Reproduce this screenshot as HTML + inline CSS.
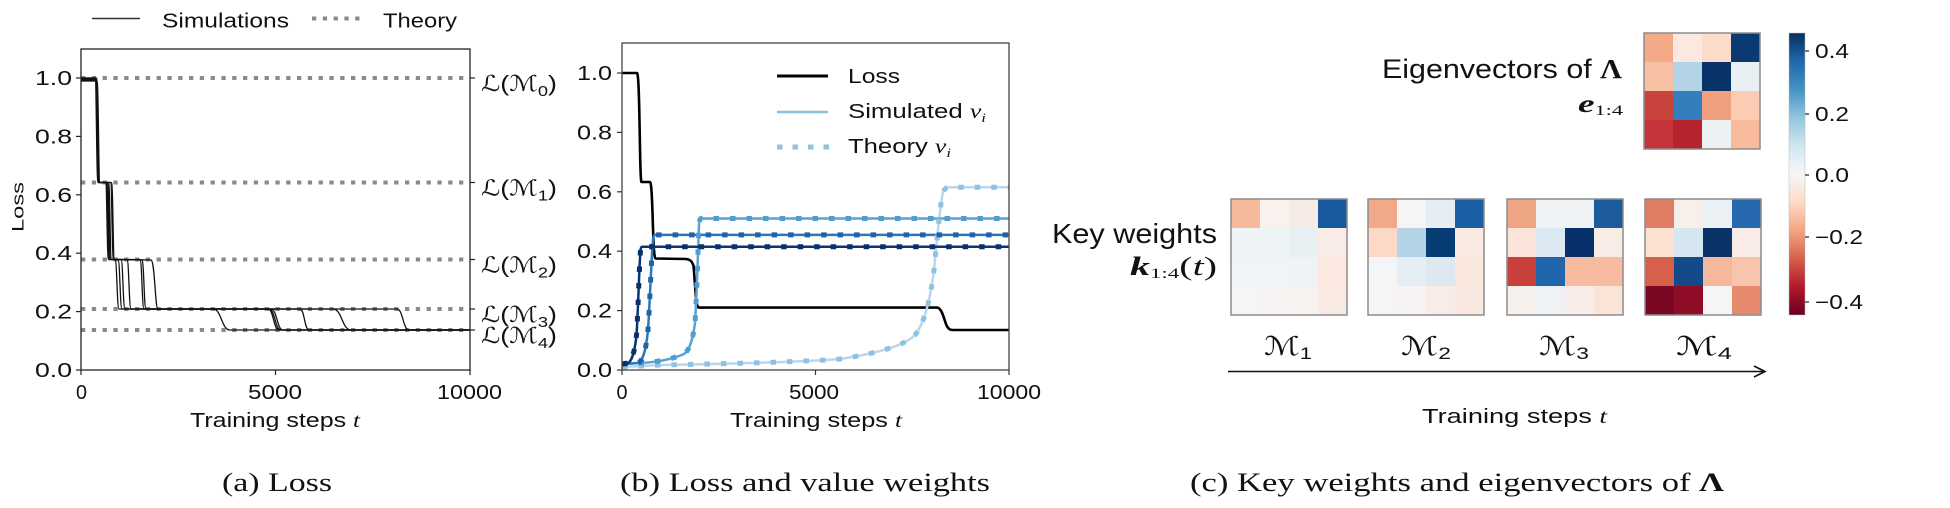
<!DOCTYPE html>
<html>
<head>
<meta charset="utf-8">
<style>
html,body{margin:0;padding:0;background:#fff;}
svg{display:block;}
text{font-family:"Liberation Sans",Arial,sans-serif;fill:#111;}
.serif{font-family:"Liberation Serif","Times New Roman",serif;}
.math{font-family:"DejaVu Serif","DejaVu Sans",serif;}
</style>
</head>
<body>
<svg width="1950" height="508" viewBox="0 0 1950 508" xmlns="http://www.w3.org/2000/svg">
<rect x="0" y="0" width="1950" height="508" fill="#fff"/>

<!-- ================= PANEL (a) ================= -->
<!-- legend -->
<line x1="92" y1="18.5" x2="140" y2="18.5" stroke="#333" stroke-width="1.5"/>
<text x="162" y="27.5" font-size="20" textLength="127" lengthAdjust="spacingAndGlyphs">Simulations</text>
<line x1="312" y1="18.5" x2="364" y2="18.5" stroke="#8a8a8a" stroke-width="4" stroke-dasharray="4.3 6.5"/>
<text x="383" y="27.5" font-size="20" textLength="74" lengthAdjust="spacingAndGlyphs">Theory</text>

<!-- theory lines -->
<g stroke="#8a8a8a" stroke-width="4" stroke-dasharray="4.3 6.5" fill="none">
<line x1="81" y1="78" x2="470" y2="78"/>
<line x1="81" y1="182.5" x2="470" y2="182.5"/>
<line x1="81" y1="259.5" x2="470" y2="259.5"/>
<line x1="81" y1="309" x2="470" y2="309"/>
<line x1="81" y1="330" x2="470" y2="330"/>
</g>

<!-- simulation runs -->
<g stroke="#111" stroke-width="1.3" fill="none">
<path d="M81 79 L95 79 C96.5 79 96.5 182.5 98 182.5 L105.5 182.5 C107 182.5 107 259.5 108.5 259.5 L115 259.5 C117 259.5 117 309 119 309 L213 309 C221.5 309 221.5 330 230 330 L470 330"/>
<path d="M81 78 L95.5 78 C97 78 97 182.5 98.5 182.5 L106.5 182.5 C108 182.5 108 259.5 109.5 259.5 L121 259.5 C123 259.5 123 309 125 309 L268 309 C273.5 309 273.5 330 279 330 L470 330"/>
<path d="M81 80 L96 80 C97.5 80 97.5 182.5 99 182.5 L107.5 182.5 C109 182.5 109 259.5 110.5 259.5 L127 259.5 C129 259.5 129 309 131 309 L271 309 C277 309 277 330 283 330 L470 330"/>
<path d="M81 78.5 L96.5 78.5 C98 78.5 98 182.5 99.5 182.5 L106.5 182.5 C108 182.5 108 259.5 109.5 259.5 L140 259.5 C142 259.5 142 309 144 309 L300 309 C304.5 309 304.5 330 309 330 L470 330"/>
<path d="M81 81 L97 81 C98.5 81 98.5 182.5 100 182.5 L110.5 182.5 C112 182.5 112 259.5 113.5 259.5 L142 260 C144 261 144 309 146 309 L333 309 C342 309 342 330 351 330 L470 330"/>
<path d="M81 79.5 L95.5 79.5 C97 79.5 97 182.5 98.5 182.5 L111.5 182.5 C113 182.5 113 259.5 114.5 259.5 L151 260 C155 261 155 309 158 309 L397 309 C403 309 403 330 409 330 L470 330"/>
<path d="M81 78 L96.5 78 C98 78 98 182.5 99.5 182.5 L108.5 182.5 C110 182.5 110 259.5 111.5 259.5 L118 259.5 C120 259.5 120 309 122 309 L269 309 C275 309 275 330 281 330 L470 330"/>
</g>

<!-- axes box -->
<rect x="81" y="49" width="389" height="321" fill="none" stroke="#222" stroke-width="1.3"/>
<!-- left ticks -->
<g stroke="#222" stroke-width="1.2">
<line x1="76" y1="78" x2="81" y2="78"/>
<line x1="76" y1="136.4" x2="81" y2="136.4"/>
<line x1="76" y1="194.8" x2="81" y2="194.8"/>
<line x1="76" y1="253.2" x2="81" y2="253.2"/>
<line x1="76" y1="311.6" x2="81" y2="311.6"/>
<line x1="76" y1="370" x2="81" y2="370"/>
<line x1="81" y1="370" x2="81" y2="375"/>
<line x1="275.5" y1="370" x2="275.5" y2="375"/>
<line x1="470" y1="370" x2="470" y2="375"/>
<line x1="470" y1="78" x2="475" y2="78"/>
<line x1="470" y1="182.5" x2="475" y2="182.5"/>
<line x1="470" y1="259.5" x2="475" y2="259.5"/>
<line x1="470" y1="309" x2="475" y2="309"/>
<line x1="470" y1="330" x2="475" y2="330"/>
</g>
<g font-size="20" text-anchor="end">
<text x="72" y="85" textLength="37" lengthAdjust="spacingAndGlyphs">1.0</text>
<text x="72" y="143.4" textLength="37" lengthAdjust="spacingAndGlyphs">0.8</text>
<text x="72" y="201.8" textLength="37" lengthAdjust="spacingAndGlyphs">0.6</text>
<text x="72" y="260.2" textLength="37" lengthAdjust="spacingAndGlyphs">0.4</text>
<text x="72" y="318.6" textLength="37" lengthAdjust="spacingAndGlyphs">0.2</text>
<text x="72" y="377" textLength="37" lengthAdjust="spacingAndGlyphs">0.0</text>
</g>
<g font-size="20" text-anchor="middle">
<text x="81.5" y="399" textLength="11" lengthAdjust="spacingAndGlyphs">0</text>
<text x="275" y="399" textLength="54" lengthAdjust="spacingAndGlyphs">5000</text>
<text x="469.5" y="399" textLength="65" lengthAdjust="spacingAndGlyphs">10000</text>
</g>
<text x="190" y="427" font-size="20" textLength="170" lengthAdjust="spacingAndGlyphs">Training steps <tspan class="serif" font-style="italic">t</tspan></text>
<text transform="translate(23.5,207) rotate(-90)" text-anchor="middle" font-size="17" textLength="50" lengthAdjust="spacingAndGlyphs">Loss</text>

<!-- right labels -->
<g class="math" font-size="22">
<text x="481" y="91" textLength="76" lengthAdjust="spacingAndGlyphs">ℒ(ℳ<tspan font-size="15" dy="5">0</tspan><tspan dy="-5">)</tspan></text>
<text x="481" y="195.5" textLength="76" lengthAdjust="spacingAndGlyphs">ℒ(ℳ<tspan font-size="15" dy="5">1</tspan><tspan dy="-5">)</tspan></text>
<text x="481" y="272.5" textLength="76" lengthAdjust="spacingAndGlyphs">ℒ(ℳ<tspan font-size="15" dy="5">2</tspan><tspan dy="-5">)</tspan></text>
<text x="481" y="322" textLength="76" lengthAdjust="spacingAndGlyphs">ℒ(ℳ<tspan font-size="15" dy="5">3</tspan><tspan dy="-5">)</tspan></text>
<text x="481" y="343" textLength="76" lengthAdjust="spacingAndGlyphs">ℒ(ℳ<tspan font-size="15" dy="5">4</tspan><tspan dy="-5">)</tspan></text>
</g>

<text class="serif" x="222" y="491" font-size="26" textLength="110" lengthAdjust="spacingAndGlyphs">(a) Loss</text>

<!-- ================= PANEL (b) ================= -->
<!-- loss -->
<path d="M622 73 L637 73 C640 73 639.5 182 641.5 182 L650 182 C653 182 652.5 258.5 655.5 258.5 L686 259 C690 259.5 692 261 693.5 266 C695 280 695.5 305 698.5 307.6 L937 307.6 C941 308 943 315 945 321 C947 328 949 330 953 330 L1009 330" fill="none" stroke="#000" stroke-width="2.6"/>

<!-- simulated v -->
<g fill="none" stroke-width="2.5">
<path d="M622 367 L660 365 C720 364 800 362 840 359 C880 353 905 345 915 335 C925 322 930 300 934 270 C937 240 940 205 943 192 C945 188 947 187.3 950 187.3 L1009 187.3" stroke="#b8d7eb"/>
<path d="M622 364 L640 363 C660 362 675 358 684 354 C690 350 693 338 695 323 C697 290 698 250 699 225 C699.5 220 700 218.5 701 218.5 L1009 218.5" stroke="#5aa2d3"/>
<path d="M622 364 L638 363 C643 361 646 350 648 330 C650 300 651.5 255 653 240 C653.5 236 654 235 655 234.9 L1009 234.9" stroke="#2a78bb"/>
<path d="M622 364 L628 363 C632 361 635 350 636.5 335 C638 315 639 270 640.5 250 C641 247 641.5 246.7 642.5 246.7 L1009 246.7" stroke="#0a3571"/>
</g>
<!-- theory v -->
<g fill="none" stroke-width="5" stroke-dasharray="5.5 11">
<path d="M622 367 L660 365 C720 364 800 362 840 359 C880 353 905 345 915 335 C925 322 930 300 934 270 C937 240 940 205 943 192 C945 188 947 187.3 950 187.3 L1009 187.3" stroke="#8fc2e2"/>
<path d="M622 364 L640 363 C660 362 675 358 684 354 C690 350 693 338 695 323 C697 290 698 250 699 225 C699.5 220 700 218.5 701 218.5 L1009 218.5" stroke="#519dd0"/>
<path d="M622 364 L638 363 C643 361 646 350 648 330 C650 300 651.5 255 653 240 C653.5 236 654 235 655 234.9 L1009 234.9" stroke="#1c63a9"/>
<path d="M622 364 L628 363 C632 361 635 350 636.5 335 C638 315 639 270 640.5 250 C641 247 641.5 246.7 642.5 246.7 L1009 246.7" stroke="#08306b"/>
</g>

<!-- axes box -->
<rect x="622" y="43" width="387" height="327" fill="none" stroke="#444" stroke-width="1.3"/>
<g stroke="#333" stroke-width="1.2">
<line x1="617" y1="73" x2="622" y2="73"/>
<line x1="617" y1="132.4" x2="622" y2="132.4"/>
<line x1="617" y1="191.8" x2="622" y2="191.8"/>
<line x1="617" y1="251.2" x2="622" y2="251.2"/>
<line x1="617" y1="310.6" x2="622" y2="310.6"/>
<line x1="617" y1="370" x2="622" y2="370"/>
<line x1="622" y1="370" x2="622" y2="375"/>
<line x1="815.5" y1="370" x2="815.5" y2="375"/>
<line x1="1009" y1="370" x2="1009" y2="375"/>
</g>
<g font-size="20" text-anchor="end">
<text x="612" y="80" textLength="35" lengthAdjust="spacingAndGlyphs">1.0</text>
<text x="612" y="139.4" textLength="35" lengthAdjust="spacingAndGlyphs">0.8</text>
<text x="612" y="198.8" textLength="35" lengthAdjust="spacingAndGlyphs">0.6</text>
<text x="612" y="258.2" textLength="35" lengthAdjust="spacingAndGlyphs">0.4</text>
<text x="612" y="317.6" textLength="35" lengthAdjust="spacingAndGlyphs">0.2</text>
<text x="612" y="377" textLength="35" lengthAdjust="spacingAndGlyphs">0.0</text>
</g>
<g font-size="20" text-anchor="middle">
<text x="622" y="399" textLength="11" lengthAdjust="spacingAndGlyphs">0</text>
<text x="814" y="399" textLength="50" lengthAdjust="spacingAndGlyphs">5000</text>
<text x="1009" y="399" textLength="64" lengthAdjust="spacingAndGlyphs">10000</text>
</g>
<text x="730" y="427" font-size="20" textLength="172" lengthAdjust="spacingAndGlyphs">Training steps <tspan class="serif" font-style="italic">t</tspan></text>

<!-- legend (b) -->
<line x1="777" y1="76" x2="828" y2="76" stroke="#000" stroke-width="3"/>
<text x="848" y="83" font-size="20" textLength="52" lengthAdjust="spacingAndGlyphs">Loss</text>
<line x1="777" y1="112" x2="828" y2="112" stroke="#8cc0e0" stroke-width="2.5"/>
<text x="848" y="118" font-size="20" textLength="138" lengthAdjust="spacingAndGlyphs">Simulated <tspan class="serif" font-style="italic">v</tspan><tspan class="serif" font-style="italic" font-size="13" dy="4">i</tspan></text>
<line x1="777" y1="147" x2="830" y2="147" stroke="#8fc2e2" stroke-width="5" stroke-dasharray="5.5 10"/>
<text x="848" y="153" font-size="20" textLength="103" lengthAdjust="spacingAndGlyphs">Theory <tspan class="serif" font-style="italic">v</tspan><tspan class="serif" font-style="italic" font-size="13" dy="4">i</tspan></text>

<text class="serif" x="620" y="491" font-size="26" textLength="370" lengthAdjust="spacingAndGlyphs">(b) Loss and value weights</text>

<!-- ================= PANEL (c) ================= -->
<text x="1382" y="78" font-size="27" textLength="240" lengthAdjust="spacingAndGlyphs">Eigenvectors of <tspan class="serif" font-weight="bold">Λ</tspan></text>
<text class="serif" x="1623" y="112" font-size="25" text-anchor="end" textLength="45" lengthAdjust="spacingAndGlyphs"><tspan font-weight="bold" font-style="italic">e</tspan><tspan font-size="15" dy="3">1:4</tspan></text>

<text x="1217" y="243" font-size="28" text-anchor="end" textLength="165" lengthAdjust="spacingAndGlyphs">Key weights</text>
<text class="serif" x="1217" y="275" font-size="26" text-anchor="end" textLength="87" lengthAdjust="spacingAndGlyphs"><tspan font-weight="bold" font-style="italic">k</tspan><tspan font-size="15" dy="3">1:4</tspan><tspan dy="-3">(</tspan><tspan font-style="italic">t</tspan>)</text>

<!-- eigenvector heatmap -->
<g transform="translate(1644,33)">
<rect x="0" y="0" width="29.5" height="29.5" fill="#f4aa88"/><rect x="29" y="0" width="29.5" height="29.5" fill="#fbe9e1"/><rect x="58" y="0" width="29.5" height="29.5" fill="#fddcc9"/><rect x="87" y="0" width="29" height="29.5" fill="#0b3a72"/>
<rect x="0" y="29" width="29.5" height="29.5" fill="#f8c0a3"/><rect x="29" y="29" width="29.5" height="29.5" fill="#b3d4e7"/><rect x="58" y="29" width="29.5" height="29.5" fill="#083369"/><rect x="87" y="29" width="29" height="29.5" fill="#e9f0f4"/>
<rect x="0" y="58" width="29.5" height="29.5" fill="#c8433c"/><rect x="29" y="58" width="29.5" height="29.5" fill="#327fbb"/><rect x="58" y="58" width="29.5" height="29.5" fill="#f0a07e"/><rect x="87" y="58" width="29" height="29.5" fill="#fbccb3"/>
<rect x="0" y="87" width="29.5" height="29" fill="#c6333a"/><rect x="29" y="87" width="29.5" height="29" fill="#b7232f"/><rect x="58" y="87" width="29.5" height="29" fill="#ecf1f4"/><rect x="87" y="87" width="29" height="29" fill="#f8bc9d"/>
<rect x="0" y="0" width="116" height="116" fill="none" stroke="#8c8c8c" stroke-width="1.5"/>
</g>

<!-- M1 -->
<g transform="translate(1231,199)">
<rect x="0" y="0" width="29.5" height="29.5" fill="#f5b99c"/><rect x="29" y="0" width="29.5" height="29.5" fill="#f8f1ee"/><rect x="58" y="0" width="29.5" height="29.5" fill="#f7ebe7"/><rect x="87" y="0" width="29" height="29.5" fill="#175a9e"/>
<rect x="0" y="29" width="29.5" height="29.5" fill="#eef3f6"/><rect x="29" y="29" width="29.5" height="29.5" fill="#eef3f6"/><rect x="58" y="29" width="29.5" height="29.5" fill="#e7eff3"/><rect x="87" y="29" width="29" height="29.5" fill="#f9ece6"/>
<rect x="0" y="58" width="29.5" height="29.5" fill="#f1f4f7"/><rect x="29" y="58" width="29.5" height="29.5" fill="#f1f4f7"/><rect x="58" y="58" width="29.5" height="29.5" fill="#f0f3f6"/><rect x="87" y="58" width="29" height="29.5" fill="#fbe9e1"/>
<rect x="0" y="87" width="29.5" height="29" fill="#f4f5f6"/><rect x="29" y="87" width="29.5" height="29" fill="#f6f3f2"/><rect x="58" y="87" width="29.5" height="29" fill="#f6f2f0"/><rect x="87" y="87" width="29" height="29" fill="#f8e9e3"/>
<rect x="0" y="0" width="116" height="116" fill="none" stroke="#8c8c8c" stroke-width="1.5"/>
</g>

<!-- M2 -->
<g transform="translate(1368,199)">
<rect x="0" y="0" width="29.5" height="29.5" fill="#f2a98a"/><rect x="29" y="0" width="29.5" height="29.5" fill="#f6f5f3"/><rect x="58" y="0" width="29.5" height="29.5" fill="#e6eef4"/><rect x="87" y="0" width="29" height="29.5" fill="#1a5fa3"/>
<rect x="0" y="29" width="29.5" height="29.5" fill="#fcd9c6"/><rect x="29" y="29" width="29.5" height="29.5" fill="#b4d3e7"/><rect x="58" y="29" width="29.5" height="29.5" fill="#083c75"/><rect x="87" y="29" width="29" height="29.5" fill="#f9ebe3"/>
<rect x="0" y="58" width="29.5" height="29.5" fill="#f3f5f6"/><rect x="29" y="58" width="29.5" height="29.5" fill="#e4eef4"/><rect x="58" y="58" width="29.5" height="29.5" fill="#dde8f0"/><rect x="87" y="58" width="29" height="29.5" fill="#fae8df"/>
<rect x="0" y="87" width="29.5" height="29" fill="#f5f5f5"/><rect x="29" y="87" width="29.5" height="29" fill="#f6f3f2"/><rect x="58" y="87" width="29.5" height="29" fill="#f8ece8"/><rect x="87" y="87" width="29" height="29" fill="#f9e8e0"/>
<rect x="0" y="0" width="116" height="116" fill="none" stroke="#8c8c8c" stroke-width="1.5"/>
</g>

<!-- M3 -->
<g transform="translate(1507,199)">
<rect x="0" y="0" width="29.5" height="29.5" fill="#eea584"/><rect x="29" y="0" width="29.5" height="29.5" fill="#eef2f5"/><rect x="58" y="0" width="29.5" height="29.5" fill="#eef2f5"/><rect x="87" y="0" width="29" height="29.5" fill="#1d5c9c"/>
<rect x="0" y="29" width="29.5" height="29.5" fill="#fbe5da"/><rect x="29" y="29" width="29.5" height="29.5" fill="#dbe8f2"/><rect x="58" y="29" width="29.5" height="29.5" fill="#08306b"/><rect x="87" y="29" width="29" height="29.5" fill="#f8ece7"/>
<rect x="0" y="58" width="29.5" height="29.5" fill="#c7403a"/><rect x="29" y="58" width="29.5" height="29.5" fill="#2166ac"/><rect x="58" y="58" width="29.5" height="29.5" fill="#f7bba0"/><rect x="87" y="58" width="29" height="29.5" fill="#f7bba0"/>
<rect x="0" y="87" width="29.5" height="29" fill="#f6f0ed"/><rect x="29" y="87" width="29.5" height="29" fill="#eef2f5"/><rect x="58" y="87" width="29.5" height="29" fill="#f8ede9"/><rect x="87" y="87" width="29" height="29" fill="#fae4d8"/>
<rect x="0" y="0" width="116" height="116" fill="none" stroke="#8c8c8c" stroke-width="1.5"/>
</g>

<!-- M4 -->
<g transform="translate(1645,199)">
<rect x="0" y="0" width="29.5" height="29.5" fill="#df7c63"/><rect x="29" y="0" width="29.5" height="29.5" fill="#f9efea"/><rect x="58" y="0" width="29.5" height="29.5" fill="#eaf0f4"/><rect x="87" y="0" width="29" height="29.5" fill="#2568b0"/>
<rect x="0" y="29" width="29.5" height="29.5" fill="#fde1d3"/><rect x="29" y="29" width="29.5" height="29.5" fill="#d5e6f1"/><rect x="58" y="29" width="29.5" height="29.5" fill="#0a3367"/><rect x="87" y="29" width="29" height="29.5" fill="#f9ebe5"/>
<rect x="0" y="58" width="29.5" height="29.5" fill="#d7604d"/><rect x="29" y="58" width="29.5" height="29.5" fill="#154a8a"/><rect x="58" y="58" width="29.5" height="29.5" fill="#f6b89b"/><rect x="87" y="58" width="29" height="29.5" fill="#f8c5ac"/>
<rect x="0" y="87" width="29.5" height="29" fill="#7a0822"/><rect x="29" y="87" width="29.5" height="29" fill="#8f0d26"/><rect x="58" y="87" width="29.5" height="29" fill="#f5f5f5"/><rect x="87" y="87" width="29" height="29" fill="#e6896c"/>
<rect x="0" y="0" width="116" height="116" fill="none" stroke="#8c8c8c" stroke-width="1.5"/>
</g>

<!-- M labels -->
<g class="math" font-size="26" text-anchor="middle">
<text x="1288" y="355" textLength="48" lengthAdjust="spacingAndGlyphs">ℳ<tspan font-size="17" dy="4">1</tspan></text>
<text x="1426" y="355" textLength="50" lengthAdjust="spacingAndGlyphs">ℳ<tspan font-size="17" dy="4">2</tspan></text>
<text x="1564" y="355" textLength="50" lengthAdjust="spacingAndGlyphs">ℳ<tspan font-size="17" dy="4">3</tspan></text>
<text x="1704" y="355" textLength="56" lengthAdjust="spacingAndGlyphs">ℳ<tspan font-size="17" dy="4">4</tspan></text>
</g>

<!-- arrow -->
<line x1="1228" y1="371.5" x2="1764" y2="371.5" stroke="#111" stroke-width="1.6"/>
<polyline points="1754,366 1765,371.5 1754,377" fill="none" stroke="#111" stroke-width="1.6"/>
<text x="1422" y="423" font-size="20" textLength="185" lengthAdjust="spacingAndGlyphs">Training steps <tspan class="serif" font-style="italic">t</tspan></text>

<!-- colorbar -->
<defs>
<linearGradient id="rdbu" x1="0" y1="0" x2="0" y2="1">
<stop offset="0" stop-color="#053061"/>
<stop offset="0.1" stop-color="#2166ac"/>
<stop offset="0.2" stop-color="#4393c3"/>
<stop offset="0.3" stop-color="#92c5de"/>
<stop offset="0.4" stop-color="#d1e5f0"/>
<stop offset="0.5" stop-color="#f7f7f7"/>
<stop offset="0.6" stop-color="#fddbc7"/>
<stop offset="0.7" stop-color="#f4a582"/>
<stop offset="0.8" stop-color="#d6604d"/>
<stop offset="0.9" stop-color="#b2182b"/>
<stop offset="1" stop-color="#67001f"/>
</linearGradient>
</defs>
<rect x="1789" y="33" width="16" height="282" fill="url(#rdbu)" stroke="#bbb" stroke-width="0.5"/>
<g stroke="#222" stroke-width="1.2">
<line x1="1805" y1="51" x2="1809" y2="51"/>
<line x1="1805" y1="114" x2="1809" y2="114"/>
<line x1="1805" y1="175" x2="1809" y2="175"/>
<line x1="1805" y1="237" x2="1809" y2="237"/>
<line x1="1805" y1="302" x2="1809" y2="302"/>
</g>
<g font-size="20">
<text x="1815" y="58" textLength="34" lengthAdjust="spacingAndGlyphs">0.4</text>
<text x="1815" y="121" textLength="34" lengthAdjust="spacingAndGlyphs">0.2</text>
<text x="1815" y="182" textLength="34" lengthAdjust="spacingAndGlyphs">0.0</text>
<text x="1815" y="244" textLength="48" lengthAdjust="spacingAndGlyphs">−0.2</text>
<text x="1815" y="309" textLength="48" lengthAdjust="spacingAndGlyphs">−0.4</text>
</g>

<text class="serif" x="1190" y="491" font-size="26" textLength="534" lengthAdjust="spacingAndGlyphs">(c) Key weights and eigenvectors of <tspan font-weight="bold">Λ</tspan></text>
</svg>
</body>
</html>
